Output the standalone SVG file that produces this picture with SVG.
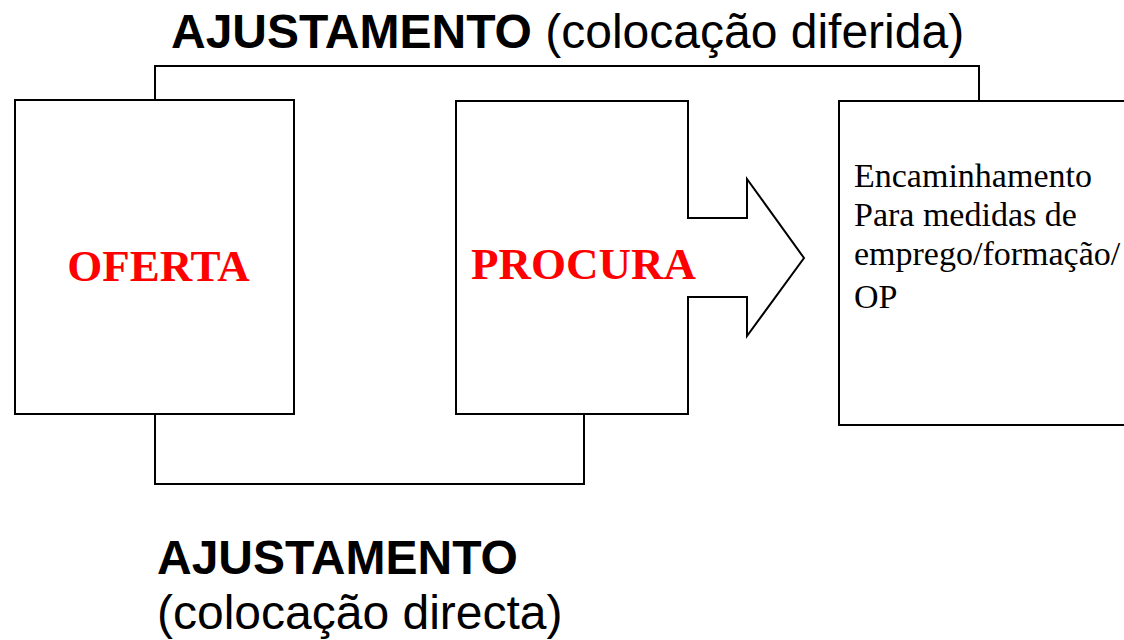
<svg xmlns="http://www.w3.org/2000/svg" width="1124" height="640" viewBox="0 0 1124 640">
<style>
.box{fill:#fff;stroke:#000;stroke-width:2}
.conn{fill:none;stroke:#000;stroke-width:2}
.big{font-family:"Liberation Sans",Arial,sans-serif;font-size:48px;fill:#000}
.red{font-family:"Liberation Serif","Times New Roman",serif;font-size:45px;font-weight:bold;fill:#ff0000}
.body{font-family:"Liberation Serif","Times New Roman",serif;font-size:34px;fill:#000}
</style>
<rect width="1124" height="640" fill="#fff"/>
<g id="connectors">
<polyline class="conn" points="155,100 155,66 979,66 979,101"/>
<polyline class="conn" points="155,414 155,484 584,484 584,414"/>
</g>
<g id="oferta">
<rect class="box" x="15" y="100" width="279" height="314"/>
<text class="red" x="158.5" y="281" text-anchor="middle" font-size="46">OFERTA</text>
</g>
<g id="procura">
<polygon class="box" points="456,101 688,101 688,218 747,218 747,179 804,258 747,336 747,297 688,297 688,414 456,414"/>
<text class="red" x="583.5" y="279" text-anchor="middle">PROCURA</text>
</g>
<g id="encaminhamento">
<rect class="box" x="839" y="101" width="300" height="324"/>
<text class="body" x="854">
<tspan x="854" y="187">Encaminhamento</tspan>
<tspan x="854" y="226">Para medidas de</tspan>
<tspan x="854" y="265">emprego/formação/</tspan>
<tspan x="854" y="308">OP</tspan>
</text>
</g>
<g id="title-top">
<text class="big" x="171" y="48"><tspan font-weight="bold">AJUSTAMENTO</tspan> (colocação diferida)</text>
</g>
<g id="title-bottom">
<text class="big" x="157" y="574" font-weight="bold">AJUSTAMENTO</text>
<text class="big" x="157" y="629">(colocação directa)</text>
</g>
</svg>
